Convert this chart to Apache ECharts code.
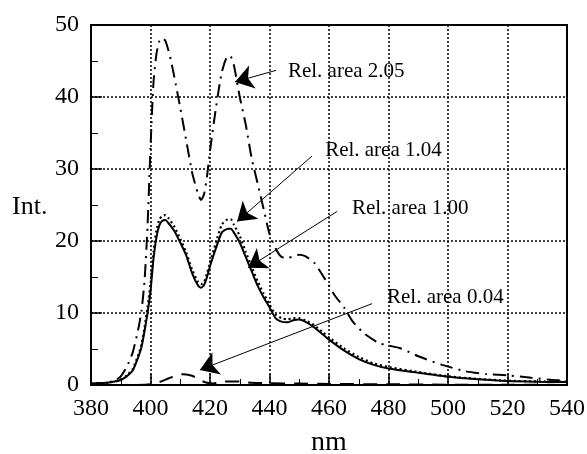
<!DOCTYPE html>
<html>
<head>
<meta charset="utf-8">
<script src="https://cdn.jsdelivr.net/npm/echarts@6/dist/echarts.min.js"></script>
</head>
<body style="margin:0;background:#fff;">
<div id="chart" style="width:587px;height:454px;"></div>
<script>
// wavelength (nm) / intensity pairs per curve
var nmSolid = [380, 385, 388, 390, 392, 394, 396, 397, 398, 399, 400, 401, 402, 403, 404, 405, 406, 408, 410, 412, 414, 416, 417, 418, 419, 420, 422, 424, 426, 427, 428, 430, 432, 434, 436, 438, 440, 442, 444, 446, 448, 450, 452, 455, 458, 460, 465, 470, 475, 480, 490, 500, 510, 520, 530, 540];
var intSolid = [0.2, 0.3, 0.5, 0.7, 1.2, 2.0, 4.0, 5.3, 7.5, 10, 13, 17.5, 20.5, 22.2, 22.8, 22.9, 22.5, 21.4, 19.8, 18.0, 15.5, 13.8, 13.5, 13.9, 15, 16.5, 19, 21.2, 21.7, 21.7, 21.2, 19.8, 17.8, 15.8, 13.8, 12.2, 10.8, 9.3, 8.8, 8.7, 9.0, 9.1, 8.8, 8.0, 7.0, 6.3, 4.8, 3.6, 2.8, 2.3, 1.7, 1.15, 0.8, 0.55, 0.45, 0.4];

var nmDotted = nmSolid;
var intDotted = [0.2, 0.3, 0.5, 0.8, 1.3, 2.2, 4.3, 5.7, 8, 10.8, 14, 18.5, 21.5, 23.0, 23.5, 23.6, 23.2, 22.0, 20.3, 18.4, 16.0, 14.3, 14.0, 14.3, 15.5, 17, 19.8, 22.3, 23.0, 23.0, 22.3, 20.7, 18.5, 16.4, 14.4, 12.7, 11.2, 9.8, 9.3, 9.1, 9.3, 9.3, 9.0, 8.3, 7.3, 6.6, 5.1, 3.9, 3.0, 2.5, 1.8, 1.2, 0.85, 0.6, 0.5, 0.45];

var nmDashDot = [380, 385, 388, 390, 392, 394, 396, 397, 398, 399, 400, 401, 402, 403, 404, 405, 406, 407, 408, 410, 412, 414, 416, 417, 418, 419, 420, 422, 424, 426, 427, 428, 430, 432, 434, 436, 438, 440, 442, 444, 446, 448, 450, 452, 455, 457, 460, 462, 465, 468, 472, 477, 484, 490, 498, 506, 513, 520, 528, 535, 540];
var intDashDot = [0.1, 0.3, 0.6, 1.2, 2.5, 4.5, 8, 10.4, 14.5, 22, 33, 42, 46, 47.8, 48.2, 47.8, 46.5, 44.8, 42.8, 38.5, 34, 29.5, 26.5, 25.7, 26.5, 29, 32.5, 38.5, 43.5, 45.7, 45.6, 44.5, 40, 36.2, 31.5, 28, 24.5, 21, 19, 17.8, 17.6, 17.9, 18.1, 17.9, 17, 15.8, 13.8, 12.4, 10.8, 8.8, 7.1, 5.8, 5.1, 4.0, 2.8, 1.9, 1.5, 1.35, 1.0, 0.7, 0.6];

var nmDashed = [380, 395, 400, 403, 406, 409, 411, 413, 415, 417, 419, 421, 425, 430, 434, 440, 450, 460, 480, 500, 520, 540];
var intDashed = [0, 0, 0.1, 0.4, 0.9, 1.4, 1.5, 1.4, 1.1, 0.6, 0.3, 0.2, 0.5, 0.5, 0.3, 0.25, 0.2, 0.15, 0.1, 0.05, 0.05, 0];

// annotations: text, text anchor [nm, int], arrow start, arrow tip
var noteTexts = ['Rel. area 2.05', 'Rel. area 1.04', 'Rel. area 1.00', 'Rel. area 0.04'];
var noteAt = [[446.2, 43.6], [458.7, 32.6], [467.7, 24.5], [479.5, 12.1]];
var arrowFrom = [[442.2, 43.7], [454.3, 31.8], [462.7, 24.1], [474.5, 11.3]];
var arrowTo = [[428.4, 42.1], [429.1, 22.7], [432.8, 16.3], [416.6, 2.1]];

var xTicks = [380, 400, 420, 440, 460, 480, 500, 520, 540];

function pairs(xs, ys) {
  return xs.map(function (x, i) { return [x, ys[i]]; });
}

var serif = '"Liberation Serif", "Times New Roman", serif';
var chart = echarts.init(document.getElementById('chart'));

var option = {
  animation: false,
  backgroundColor: '#fff',
  grid: {
    left: 91, right: 20, top: 25, bottom: 69,
    containLabel: false, outerBoundsMode: 'none',
    show: true, borderColor: '#000', borderWidth: 2
  },
  xAxis: {
    type: 'value',
    min: 380, max: 540, interval: 20,
    name: 'nm',
    nameLocation: 'middle',
    nameGap: 44,
    nameTextStyle: { fontFamily: serif, fontSize: 28, color: '#000' },
    axisLine: { lineStyle: { color: '#000', width: 2 } },
    axisTick: { inside: true, length: 11, lineStyle: { color: '#000', width: 1.5 } },
    minorTick: { show: true, splitNumber: 2, length: 6, lineStyle: { color: '#000', width: 1 } },
    axisLabel: {
      fontFamily: serif, fontSize: 24, color: '#000', margin: 12,
      formatter: function (v) { return xTicks.indexOf(v) >= 0 ? String(v) : ''; }
    },
    splitLine: { show: true, lineStyle: { color: '#000', type: [2, 2], width: 1.5 } }
  },
  yAxis: {
    type: 'value',
    min: 0, max: 50, interval: 10,
    axisLine: { lineStyle: { color: '#000', width: 2 } },
    axisTick: { inside: true, length: 11, lineStyle: { color: '#000', width: 1.5 } },
    minorTick: { show: true, splitNumber: 2, length: 7, lineStyle: { color: '#000', width: 1 } },
    axisLabel: { fontFamily: serif, fontSize: 24, color: '#000', margin: 12 },
    splitLine: { show: true, lineStyle: { color: '#000', type: [2, 2], width: 1.5 } }
  },
  graphic: [{
    type: 'text', left: 12, top: 194,
    style: { text: 'Int.', font: '26px ' + serif, fill: '#000' }
  }],
  series: [
    {
      type: 'line', name: '2.05', showSymbol: false, smooth: 0.2,
      data: pairs(nmDashDot, intDashDot),
      lineStyle: { color: '#000', width: 2, type: [13, 6, 2, 6] }
    },
    {
      type: 'line', name: '1.04', showSymbol: false, smooth: 0.2,
      data: pairs(nmDotted, intDotted),
      lineStyle: { color: '#000', width: 2.2, type: [2, 3] }
    },
    {
      type: 'line', name: '1.00', showSymbol: false, smooth: 0.2,
      data: pairs(nmSolid, intSolid),
      lineStyle: { color: '#000', width: 2 },
      markLine: {
        silent: true,
        symbol: ['none', 'arrow'],
        symbolSize: 18,
        label: { show: false },
        lineStyle: { color: '#000', width: 1, type: 'solid' },
        emphasis: { disabled: true },
        data: arrowFrom.map(function (p, i) {
          return [{ coord: p }, { coord: arrowTo[i] }];
        })
      },
      markPoint: {
        silent: true,
        symbol: 'circle',
        symbolSize: 0,
        label: {
          show: true, position: 'right', distance: 0,
          fontFamily: serif, fontSize: 21, color: '#000',
          formatter: function (p) { return p.name; }
        },
        data: noteTexts.map(function (t, i) {
          return { name: t, coord: noteAt[i] };
        })
      }
    },
    {
      type: 'line', name: '0.04', showSymbol: false, smooth: 0.2,
      data: pairs(nmDashed, intDashed),
      lineStyle: { color: '#000', width: 2, type: [14, 9] }
    }
  ]
};

chart.setOption(option);
</script>
</body>
</html>
